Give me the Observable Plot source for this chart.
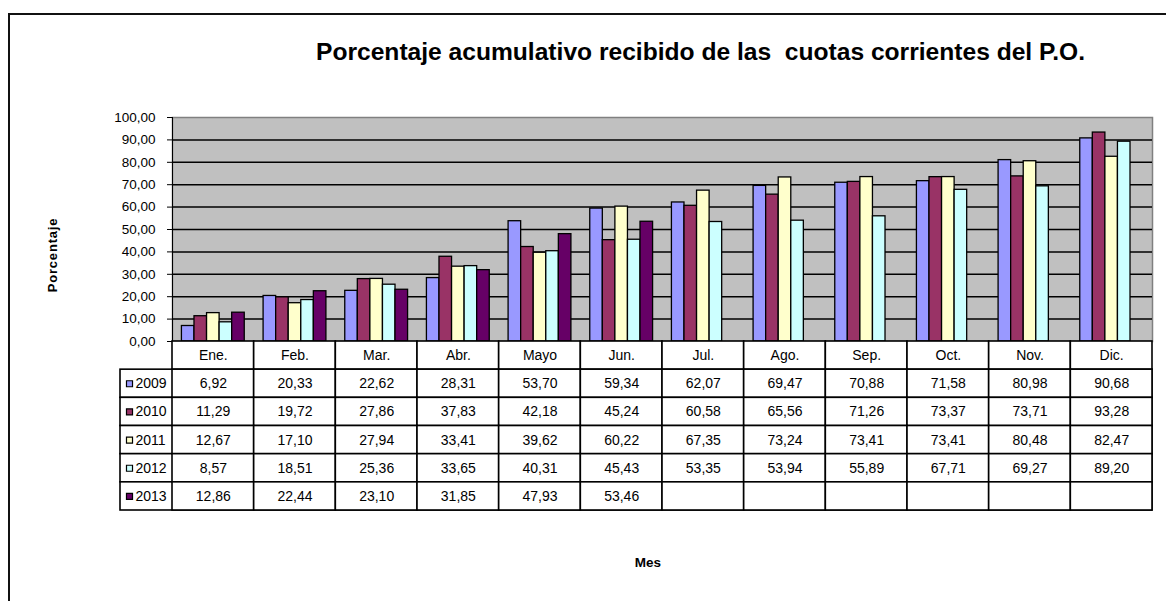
<!DOCTYPE html>
<html>
<head>
<meta charset="utf-8">
<script src="https://cdn.jsdelivr.net/npm/d3@7"></script>
<script src="https://cdn.jsdelivr.net/npm/@observablehq/plot@0.6"></script>
<style>
  html, body { margin: 0; padding: 0; background: #fff; }
  #wrap { position: relative; width: 1166px; height: 601px; overflow: hidden; background: #fff; font-family: "Liberation Sans", Arial, sans-serif; }
  #border { position: absolute; left: 8px; top: 13px; width: 1300px; height: 800px; border: 2px solid #111; box-sizing: border-box; }
  #wrap svg { position: absolute; left: 0; top: 0; }
  .lbl { position: absolute; font-weight: bold; color: #000; line-height: 1; white-space: pre; }
</style>
</head>
<body>
<div id="wrap">
  <div id="border"></div>
</div>
<script>
// ---- data ----
const months = ["Ene.", "Feb.", "Mar.", "Abr.", "Mayo", "Jun.", "Jul.", "Ago.", "Sep.", "Oct.", "Nov.", "Dic."];
const years = ["2009", "2010", "2011", "2012", "2013"];
const v2009 = [6.92, 20.33, 22.62, 28.31, 53.70, 59.34, 62.07, 69.47, 70.88, 71.58, 80.98, 90.68];
const v2010 = [11.29, 19.72, 27.86, 37.83, 42.18, 45.24, 60.58, 65.56, 71.26, 73.37, 73.71, 93.28];
const v2011 = [12.67, 17.10, 27.94, 33.41, 39.62, 60.22, 67.35, 73.24, 73.41, 73.41, 80.48, 82.47];
const v2012 = [8.57, 18.51, 25.36, 33.65, 40.31, 45.43, 53.35, 53.94, 55.89, 67.71, 69.27, 89.20];
const v2013 = [12.86, 22.44, 23.10, 31.85, 47.93, 53.46, null, null, null, null, null, null];
const yTicks = [0, 10, 20, 30, 40, 50, 60, 70, 80, 90, 100];
const colors = ["#9999FF", "#993366", "#FFFFCC", "#CCFFFF", "#660066"];
const titleText = "Porcentaje acumulativo recibido de las  cuotas corrientes del P.O.";
const yLabel = "Porcentaje";
const xLabel = "Mes";

// ---- derived tables ----
const series = [v2009, v2010, v2011, v2012, v2013];
const fmt = v => v == null ? "" : v.toFixed(2).replace(".", ",");
const data = [];
years.forEach((y, j) => months.forEach((m, i) => {
  if (series[j][i] != null) data.push({month: m, year: y, value: series[j][i]});
}));
const cells = months.map(m => ({month: m, row: "hdr", text: m}));
years.forEach((y, j) => months.forEach((m, i) => cells.push({month: m, row: y, text: fmt(series[j][i])})));

const wrap = document.getElementById("wrap");
const font = "'Liberation Sans', Arial, sans-serif";
const dims = {width: 1166, height: 345, marginLeft: 172, marginRight: 14, marginTop: 117, marginBottom: 4};

// ---- chart background: plot area, gridlines ----
const back = Plot.plot({
  ...dims,
  y: {domain: [0, 100], axis: null},
  style: {background: "transparent", fontFamily: font, overflow: "visible"},
  marks: [
    Plot.frame({fill: "#c0c0c0", stroke: "#808080", strokeWidth: 1.5}),
    Plot.ruleY(yTicks.filter(t => t > 0 && t < 100), {stroke: "#000", strokeWidth: 1.5})
  ]
});
wrap.appendChild(back);

// ---- chart bars, grouped by month, with y axis ----
const bars = Plot.plot({
  ...dims,
  facet: {data, x: "month"},
  fx: {domain: months, padding: 0, round: false, axis: null, label: null},
  x: {domain: years, paddingInner: 0, paddingOuter: 0.75, round: false, axis: null},
  y: {domain: [0, 100], ticks: yTicks, tickFormat: fmt, tickSize: 5, tickPadding: 12, line: true, label: null},
  color: {domain: years, range: colors},
  style: {background: "transparent", fontFamily: font, fontSize: "13.5px", color: "#000", overflow: "visible"},
  marks: [
    Plot.barY(data, {x: "year", y: "value", fill: "year", stroke: "#000", strokeWidth: 1.3})
  ]
});
wrap.appendChild(bars);

// ---- data table ----
const table = Plot.plot({
  width: 1166, height: 601,
  marginLeft: 120, marginRight: 14, marginTop: 341, marginBottom: 91,
  x: {domain: months, range: [172, 1152], padding: 0, round: false, axis: null},
  y: {domain: ["hdr", ...years], padding: 0, round: false, axis: null},
  color: {domain: years, range: colors},
  style: {background: "transparent", fontFamily: font, fontSize: "14px", color: "#000", overflow: "visible"},
  marks: [
    Plot.cell(years, {y: d => d, fill: "#fff", stroke: "#000", strokeWidth: 1.6}),
    Plot.cell(cells, {x: "month", y: "row", fill: "#fff", stroke: "#000", strokeWidth: 1.6}),
    Plot.text(cells, {x: "month", y: "row", text: "text", fill: "#000"}),
    Plot.dot(years, {y: d => d, frameAnchor: "left", dx: 9, symbol: "square", r: 3.4, fill: d => d, stroke: "#000", strokeWidth: 1.2}),
    Plot.text(years, {y: d => d, text: d => d, frameAnchor: "left", textAnchor: "start", dx: 15, fill: "#000"})
  ]
});
wrap.appendChild(table);

// ---- labels ----
function addLabel(text, css) {
  const d = document.createElement("div");
  d.className = "lbl";
  d.textContent = text;
  Object.assign(d.style, css);
  wrap.appendChild(d);
  return d;
}
addLabel(titleText, {left: "316px", top: "40px", fontSize: "24.6px"});
addLabel(yLabel, {left: "52px", top: "255px", fontSize: "13px", letterSpacing: "0.8px", transform: "translate(-50%,-50%) rotate(-90deg)"});
addLabel(xLabel, {left: "648px", top: "556px", fontSize: "13.5px", transform: "translateX(-50%)"});
</script>
</body>
</html>
